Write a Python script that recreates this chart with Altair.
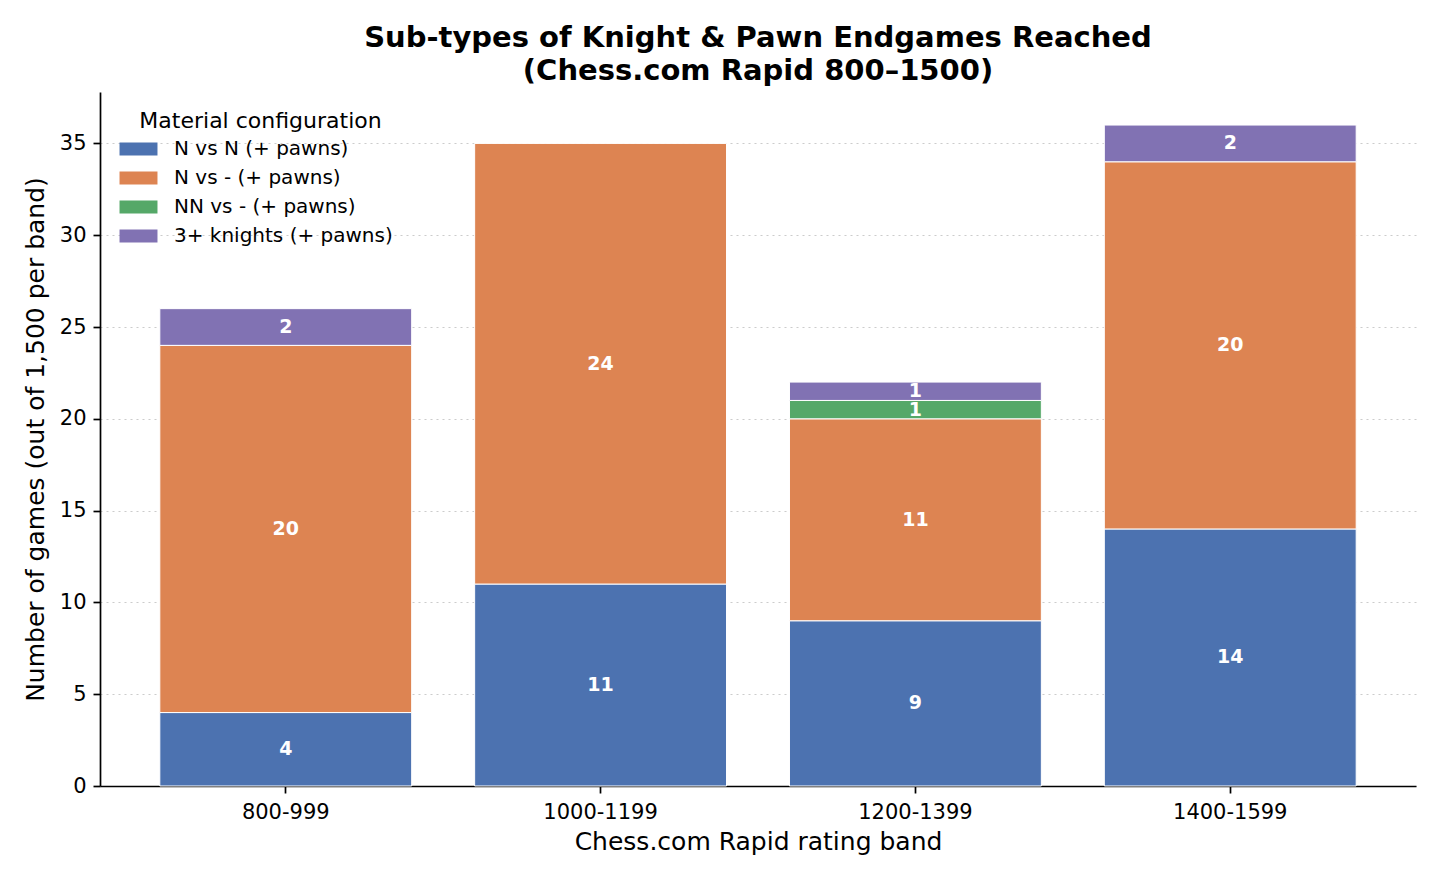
import altair as alt
import pandas as pd

bands = ["800-999", "1000-1199", "1200-1399", "1400-1599"]
series = ["N vs N (+ pawns)", "N vs - (+ pawns)", "NN vs - (+ pawns)", "3+ knights (+ pawns)"]
colors = ["#4C72B0", "#DD8452", "#55A868", "#8172B3"]
n_vs_n = [4, 11, 9, 14]
n_vs_none = [20, 24, 11, 20]
nn_vs_none = [0, 0, 1, 0]
three_plus = [2, 0, 1, 2]

rows = []
for si, (name, vals) in enumerate(zip(series, [n_vs_n, n_vs_none, nn_vs_none, three_plus])):
    for b, v in zip(bands, vals):
        rows.append({"band": b, "series": name, "value": v, "order": si})
df = pd.DataFrame(rows)

FONT = "DejaVu Sans"

base = alt.Chart(df).transform_filter("datum.value > 0").transform_stack(
    stack="value", groupby=["band"], as_=["y0", "y1"], sort=[{"field": "order", "order": "ascending"}]
).transform_calculate(mid="(datum.y0 + datum.y1) / 2")

xenc = alt.X("band:N", sort=bands, title="Chess.com Rapid rating band",
             scale=alt.Scale(paddingInner=0.2, paddingOuter=0.19),
             axis=alt.Axis(labelAngle=0, labelFontSize=21, titleFontSize=25, titleFontWeight="normal",
                           labelColor="#000", titleColor="#000", domainColor="#000", tickColor="#000",
                           domainWidth=1.7, tickWidth=1.7, tickSize=7, labelPadding=8,
                           titlePadding=7, grid=False))

bars = base.mark_bar(stroke="white", strokeWidth=1).encode(
    x=xenc,
    y=alt.Y("y0:Q", title="Number of games (out of 1,500 per band)",
            scale=alt.Scale(domain=[0, 37.8], nice=False),
            axis=alt.Axis(values=[0, 5, 10, 15, 20, 25, 30, 35], labelFontSize=21, titleFontSize=25,
                          titleFontWeight="normal", labelColor="#000", titleColor="#000",
                          domainColor="#000", tickColor="#000", domainWidth=1.7, tickWidth=1.7,
                          tickSize=7, labelPadding=7, titlePadding=11, grid=True,
                          gridColor="#cccccc", gridDash=[2, 4], gridWidth=1.2)),
    y2="y1:Q",
    color=alt.Color("series:N", sort=series,
                    scale=alt.Scale(domain=series, range=colors),
                    legend=alt.Legend(title="Material configuration", orient="none",
                                      legendX=28.5, legendY=19, titleFontSize=22,
                                      titleFontWeight="normal", titleColor="#000",
                                      titleAnchor="middle", titlePadding=6, titleLimit=600,
                                      labelFontSize=20, labelColor="#000", labelOffset=25.5,
                                      labelLimit=600,
                                      symbolType="M-2.92,-1L2.92,-1L2.92,1L-2.92,1Z",
                                      symbolSize=169, symbolStrokeWidth=0, symbolOpacity=1,
                                      rowPadding=9)),
    order=alt.Order("order:Q"),
)

labels = base.mark_text(color="white", fontWeight="bold", fontSize=19, baseline="middle", font=FONT).encode(
    x=alt.X("band:N", sort=bands),
    y="mid:Q",
    text="value:Q",
)

chart = alt.layer(bars, labels).properties(
    width=1316, height=694,
    title=alt.TitleParams(["Sub-types of Knight & Pawn Endgames Reached", "(Chess.com Rapid 800–1500)"],
                          fontSize=29, fontWeight="bold", color="#000", anchor="middle",
                          lineHeight=33, offset=6, font=FONT),
    autosize=alt.AutoSizeParams(type="none"),
    padding={"left": 92, "top": 84, "right": 16, "bottom": 80},
).configure(font=FONT).configure_view(stroke=None).configure_axis(labelFont=FONT, titleFont=FONT)

chart.save("out.html", embed_options={"renderer": "svg", "actions": False})
